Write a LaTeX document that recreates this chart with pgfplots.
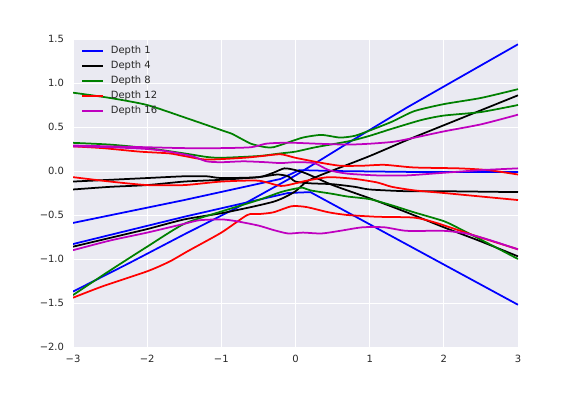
\documentclass[border=0pt]{standalone}
\usepackage{pgfplots}
\pgfplotsset{compat=1.18}
\usepackage{fontspec}
\setmainfont{DejaVu Sans}
\definecolor{bgc}{HTML}{EAEAF2}
\definecolor{txt}{HTML}{262626}
\definecolor{mblue}{rgb}{0,0,1}
\definecolor{mgreen}{rgb}{0,0.5,0}
\definecolor{mred}{rgb}{1,0,0}
\definecolor{mmag}{rgb}{0.75,0,0.75}

\begin{document}
\begin{tikzpicture}
\path[use as bounding box] (-73bp,-49bp) rectangle (503bp,347bp);
\begin{axis}[
  scale only axis, width=445bp, height=308bp,
  at={(0,0)}, anchor=south west,
  xmin=-3, xmax=3, ymin=-2, ymax=1.5,
  axis background/.style={fill=bgc},
  axis line style={draw=none},
  grid=major, major grid style={white, line width=1bp},
  major tick length=0pt,
  xtick={-3,-2,-1,0,1,2,3},
  xticklabels={−3,−2,−1,0,1,2,3},
  ytick={-2,-1.5,-1,-0.5,0,0.5,1,1.5},
  yticklabels={−2.0,−1.5,−1.0,−0.5,0.0,0.5,1.0,1.5},
  tick label style={font=\fontsize{10}{12}\selectfont, text=txt},
  xticklabel style={yshift=-4.5bp},
  yticklabel style={xshift=-5.5bp},
  every axis plot/.append style={line width=1.75bp},
  legend image code/.code={\draw[#1] (0bp,0bp) -- (21bp,0bp);},
  legend cell align=left,
  legend style={draw=none, fill=none, at={(0,1)}, anchor=north west,
    xshift=8bp, yshift=-6.5bp, inner sep=0pt,
    font=\fontsize{10}{12}\selectfont, text=txt,
    nodes={inner sep=0pt, text height=7.5bp, text depth=2.5bp},
    row sep=5bp,
    /tikz/every odd column/.append style={column sep=7bp}},
]
% Depth 1
\addplot[mblue] coordinates {(-3,-1.37)(-2.25,-1.05)(-1.5,-0.72)(-0.75,-0.40)(0,-0.05)(0.75,0.34)(1.5,0.72)(2.25,1.08)(3,1.44)};
\addplot[mblue, forget plot] coordinates {(-3,-0.83)(-1.5,-0.52)(-0.1,-0.25)(0.2,-0.24)(3,-1.52)};
\addplot[mblue, forget plot] coordinates {(-3,-0.59)(-1.5,-0.33)(-0.2,-0.09)(0.05,0.01)(0.5,0.0)(1.5,-0.01)(3,-0.01)};
% Depth 4
\addplot[black, smooth, tension=0.4] coordinates {(-3,-0.12)(-2.5,-0.10)(-2,-0.08)(-1.5,-0.06)(-1.2,-0.06)(-1,-0.08)(-0.5,-0.07)(-0.3,-0.02)(-0.15,0.03)(0,0.01)(0.15,-0.03)(0.5,-0.16)(1,-0.31)(1.5,-0.47)(2,-0.64)(2.5,-0.80)(3,-0.97)};
\addplot[black, smooth, tension=0.4, forget plot] coordinates {(-3,-0.21)(-2.5,-0.18)(-2,-0.16)(-1.5,-0.12)(-1,-0.10)(-0.5,-0.07)(-0.25,-0.04)(-0.1,-0.06)(0,-0.12)(0.2,-0.14)(0.5,-0.15)(0.8,-0.18)(1,-0.21)(1.5,-0.23)(2,-0.23)(3,-0.24)};
\addplot[black, smooth, tension=0.4, forget plot] coordinates {(-3,-0.86)(-2.5,-0.76)(-2,-0.66)(-1.5,-0.55)(-1,-0.48)(-0.6,-0.41)(-0.3,-0.35)(-0.15,-0.30)(0,-0.23)(0.15,-0.12)(0.3,-0.06)(0.45,-0.01)(1,0.17)(1.5,0.35)(2,0.52)(2.5,0.69)(3,0.86)};
% Depth 8
\addplot[mgreen, smooth, tension=0.4] coordinates {(-3,0.89)(-2.5,0.83)(-2,0.75)(-1.5,0.61)(-0.95,0.45)(-0.85,0.42)(-0.6,0.31)(-0.4,0.27)(-0.3,0.27)(-0.15,0.31)(0.1,0.38)(0.35,0.41)(0.6,0.38)(0.8,0.40)(1,0.46)(1.3,0.56)(1.6,0.68)(2,0.76)(2.5,0.83)(3,0.93)};
\addplot[mgreen, smooth, tension=0.4, forget plot] coordinates {(-3,0.32)(-2.5,0.30)(-2,0.26)(-1.5,0.20)(-1.2,0.16)(-1,0.15)(-0.5,0.17)(-0.2,0.20)(0,0.22)(0.27,0.27)(0.73,0.34)(1,0.40)(1.3,0.48)(1.7,0.58)(2,0.63)(2.5,0.67)(3,0.75)};
\addplot[mgreen, smooth, tension=0.4, forget plot] coordinates {(-3,-1.41)(-2.5,-1.13)(-2,-0.86)(-1.5,-0.60)(-1,-0.46)(-0.5,-0.33)(-0.2,-0.24)(0,-0.20)(0.1,-0.19)(0.2,-0.22)(0.5,-0.26)(0.7,-0.29)(1,-0.32)(1.3,-0.39)(1.6,-0.47)(2,-0.57)(2.2,-0.65)(2.5,-0.78)(3,-1.0)};
% Depth 12
\addplot[mred, smooth, tension=0.4] coordinates {(-3,0.28)(-2.6,0.26)(-2.1,0.22)(-1.7,0.20)(-1.5,0.17)(-1.2,0.13)(-0.7,0.15)(-0.45,0.17)(-0.2,0.19)(0,0.15)(0.3,0.10)(0.6,0.06)(0.9,0.06)(1.2,0.07)(1.6,0.04)(2.2,0.03)(2.6,0.01)(3,-0.04)};
\addplot[mred, smooth, tension=0.4, forget plot] coordinates {(-3,-0.07)(-2.5,-0.12)(-2,-0.16)(-1.5,-0.16)(-1,-0.12)(-0.5,-0.11)(-0.2,-0.17)(0,-0.14)(0.15,-0.11)(0.45,-0.07)(0.8,-0.09)(1.1,-0.13)(1.3,-0.18)(1.6,-0.22)(2,-0.25)(2.5,-0.29)(3,-0.33)};
\addplot[mred, smooth, tension=0.4, forget plot] coordinates {(-3,-1.44)(-2.6,-1.31)(-2,-1.14)(-1.7,-1.03)(-1.45,-0.91)(-1,-0.70)(-0.65,-0.50)(-0.5,-0.49)(-0.3,-0.47)(-0.05,-0.40)(0.15,-0.41)(0.45,-0.47)(0.7,-0.50)(1.1,-0.52)(1.6,-0.53)(1.9,-0.59)(2.4,-0.73)(3,-0.89)};
% Depth 16
\addplot[mmag, smooth, tension=0.4] coordinates {(-3,0.29)(-2.5,0.28)(-2,0.27)(-1.5,0.26)(-1,0.26)(-0.6,0.27)(-0.4,0.31)(-0.2,0.32)(0,0.32)(0.3,0.31)(0.7,0.30)(1,0.31)(1.3,0.33)(1.5,0.36)(2,0.45)(2.5,0.53)(3,0.64)};
\addplot[mmag, smooth, tension=0.4, forget plot] coordinates {(-3,0.28)(-2.5,0.27)(-2,0.25)(-1.7,0.22)(-1.4,0.17)(-1.2,0.11)(-1,0.10)(-0.7,0.11)(-0.4,0.10)(-0.2,0.09)(0,0.10)(0.25,0.09)(0.45,0.01)(0.7,-0.03)(1.1,-0.05)(1.5,-0.05)(2,-0.02)(2.5,0.01)(3,0.03)};
\addplot[mmag, smooth, tension=0.4, forget plot] coordinates {(-3,-0.90)(-2.5,-0.79)(-2,-0.70)(-1.5,-0.60)(-1.3,-0.56)(-1,-0.55)(-0.8,-0.57)(-0.5,-0.62)(-0.3,-0.67)(-0.1,-0.71)(0.1,-0.70)(0.35,-0.71)(0.6,-0.68)(0.9,-0.64)(1.2,-0.64)(1.5,-0.68)(2,-0.68)(2.3,-0.71)(2.6,-0.78)(3,-0.89)};
\legend{Depth 1, Depth 4, Depth 8, Depth 12, Depth 16}
\end{axis}
\end{tikzpicture}
\end{document}
